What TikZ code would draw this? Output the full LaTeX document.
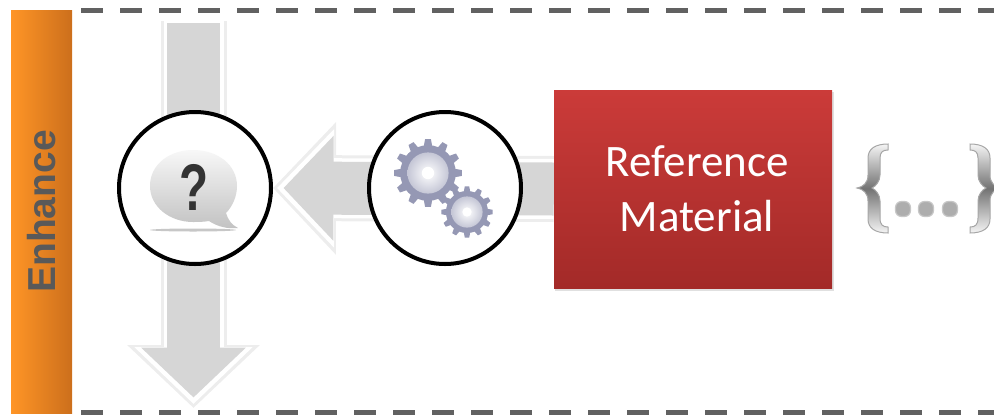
\documentclass[tikz,border=0pt]{standalone}
\usepackage{fontspec}
\setmainfont{Carlito}
\newfontfamily\myarial{Liberation Sans}
\usetikzlibrary{arrows.meta,backgrounds}
\definecolor{mygear}{HTML}{9598B4}
\definecolor{myredtop}{HTML}{CB3B39}
\definecolor{myredbot}{HTML}{A32A28}
\definecolor{myorangea}{HTML}{FF9526}
\definecolor{myorangeb}{HTML}{CC6F1C}
\tikzset{
    mygearpic/.pic={
        \foreach \myangle in {0,30,...,330}
            \fill [mygear, rotate=\myangle] (-4.5,-24) -- (-2.8,-33) -- (2.8,-33) -- (4.5,-24) -- cycle;
        \fill [mygear] (0,0) circle (27);
        \shade [inner color=white, outer color=mygear!55!white] (0,0) circle (20);
        \fill [white] (0,0) circle (6);
    },
    mybracepic/.pic={
        \draw [mybrace] (31,1) .. controls (18,1) and (11,6) .. (11,15) -- (11,32)
            .. controls (11,40) and (6,44) .. (0,45) .. controls (6,46) and (11,50) .. (11,58) -- (11,76)
            .. controls (11,85) and (18,90) .. (31,90) -- (31,84) .. controls (26,84) and (23,82) .. (23,75) -- (23,58)
            .. controls (23,52) and (19,47) .. (15,45) .. controls (19,43) and (23,38) .. (23,32) -- (23,15)
            .. controls (23,9) and (26,7) .. (31,7) -- cycle;
    }
}
\begin{document}
\begin{tikzpicture}[%
        x=1pt, y=-1pt,
        myedge/.style={line width=66pt, color=black!7, -{Triangle[length=63pt,width=129pt]}},
        mygap/.style={line width=60pt, color=white, -{Triangle[length=57pt,width=115pt]}, shorten >=4pt},
        myshaft/.style={line width=53pt, color=black!16, -{Triangle[length=50pt,width=102pt]}, shorten >=10.5pt},
        mycircle/.style={shape=circle, draw=black, fill=white, line width=4pt, inner sep=0pt, minimum size=152pt},
        mydash/.style={line width=5pt, color=black!62, dash pattern=on 22pt off 17pt},
        mybrace/.style={draw=black!35, line width=1pt, top color=black!4, bottom color=black!4, middle color=black!55},
        mydot/.style={shape=rectangle, draw=black!22, fill=black!32, line width=1.2pt, rounded corners=6pt, inner sep=0pt, minimum size=15pt}
    ]
    \useasboundingbox (0,0) rectangle (994,416);
    \fill [black!12] (555,92) rectangle (834,291);
    \node [shape=rectangle, minimum width=61pt, minimum height=403pt, inner sep=0pt, left color=myorangea, right color=myorangeb] (enhancebar) at (41.5,211.5) {};
    \node [rotate=90, font=\myarial\bfseries\fontsize{39}{39}\selectfont, color=black!65] (enhancelabel) at (enhancebar.center) {Enhance};
    \node [mycircle] (query) at (195,188) {};
    \node [mycircle] (gears) at (445,188) {};
    \node [shape=rectangle, minimum width=278pt, minimum height=198pt, inner sep=0pt, top color=myredtop, bottom color=myredbot] (refbox) at (693,189) {};
    \node [align=center, text=white, font=\fontsize{45}{55}\selectfont] (reflabel) at (697,189) {Reference\\Material};
    \coordinate (vtop) at (193.5,23);
    \coordinate (vend) at (193.5,408);
    \coordinate (dashtl) at (81,10);
    \coordinate (dashtr) at (994,10);
    \coordinate (dashbl) at (81,412);
    \coordinate (dashbr) at (994,412);
    \begin{scope}[on background layer]
        \foreach \mystyle in {myedge,mygap,myshaft} {
            \draw [\mystyle] (refbox.west) -- (query.east);
        }
        \draw [myedge, shorten <=-2pt] (vtop) -- (vend);
        \draw [mygap, shorten <=-5pt] (vtop) -- (vend);
        \draw [myshaft] (vtop) -- (vend);
    \end{scope}
    \draw [mydash] (dashtl) -- (dashtr);
    \draw [mydash] (dashbl) -- (dashbr);
    \fill [black!22] (193,230) ellipse (43 and 1.5);
    \shade [top color=black!3, bottom color=black!24] (150,186) .. controls (150,164) and (170,150) .. (193,150)
        .. controls (218,150) and (237,165) .. (237,186) .. controls (237,197) and (232,207) .. (226,213)
        .. controls (228,220) and (232,225) .. (238,228) .. controls (228,229) and (218,227) .. (209,221)
        .. controls (203,222) and (198,222) .. (193,222) .. controls (170,222) and (150,207) .. (150,186) -- cycle;
    \node [font=\myarial\bfseries\fontsize{66}{66}\selectfont, color=black!80, xscale=.72, inner sep=0pt] (qmark) at (194,187) {?};
    \pic [scale=1.03] at (428,173) {mygearpic};
    \pic [scale=.78] at (467,212) {mygearpic};
    \pic at (857,143) {mybracepic};
    \pic [xscale=-1] at (1001,143) {mybracepic};
    \foreach \myx/\myname in {903/dota,926/dotb,950/dotc}
        \node [mydot] (\myname) at (\myx,209) {};
\end{tikzpicture}
\end{document}
